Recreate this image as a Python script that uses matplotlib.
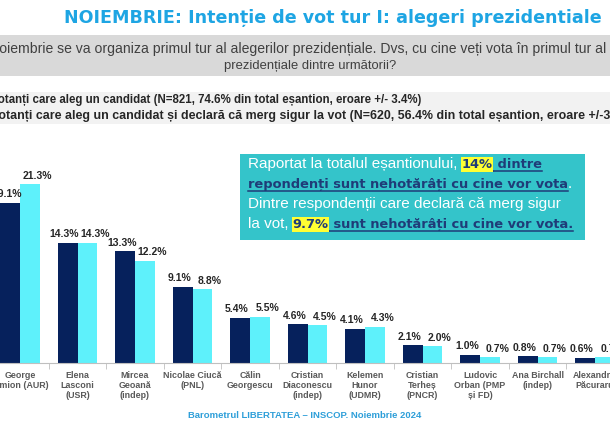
import matplotlib
matplotlib.use("Agg")
import matplotlib.pyplot as plt
from matplotlib.lines import Line2D
from matplotlib.patches import Rectangle
import numpy as np

candidates = ["George\nSimion (AUR)", "Elena\nLasconi\n(USR)", "Mircea\nGeoană\n(indep)",
              "Nicolae Ciucă\n(PNL)", "Călin\nGeorgescu", "Cristian\nDiaconescu\n(indep)",
              "Kelemen\nHunor\n(UDMR)", "Cristian\nTerheș\n(PNCR)", "Ludovic\nOrban (PMP\nși FD)",
              "Ana Birchall\n(indep)", "Alexandru\nPăcuraru"]
all_voters = [19.1, 14.3, 13.3, 9.1, 5.4, 4.6, 4.1, 2.1, 1.0, 0.8, 0.6]
sure_voters = [21.3, 14.3, 12.2, 8.8, 5.5, 4.5, 4.3, 2.0, 0.7, 0.7, 0.7]

legend_labels = ["Votanți care aleg un candidat (N=821, 74.6% din total eșantion, eroare +/- 3.4%)",
                 "Votanți care aleg un candidat și declară că merg sigur la vot (N=620, 56.4% din total eșantion, eroare +/-3.9%)"]

DARK = "#06215c"
LIGHT = "#5ef1fb"
W, H = 610, 425

fig = plt.figure(figsize=(6.1, 4.25), dpi=100)
fig.patch.set_facecolor("white")


def fx(px):
    return px / W


def fy(py):
    return 1 - py / H


# header bands
fig.patches.append(Rectangle((0, fy(76)), 1, (76 - 35) / H, transform=fig.transFigure,
                             facecolor="#d9d9d9", edgecolor="none", zorder=0))
fig.patches.append(Rectangle((0, fy(124)), 1, (124 - 92) / H, transform=fig.transFigure,
                             facecolor="#f2f2f2", edgecolor="none", zorder=0))

fig.text(fx(333), fy(18), "NOIEMBRIE: Intenție de vot tur I: alegeri prezidentiale",
         ha="center", va="center", fontsize=12.6, fontweight="bold", color="#1ea5e3",
         family="DejaVu Sans")
fig.text(fx(606), fy(49),
         "Pe 24 noiembrie se va organiza primul tur al alegerilor prezidențiale. Dvs, cu cine veți vota în primul tur al",
         ha="right", va="center", fontsize=10.1, color="#404040", family="Liberation Sans")
fig.text(fx(310), fy(66), "prezidențiale dintre următorii?", ha="center", va="center",
         fontsize=9.4, color="#404040", family="Liberation Sans")

renderer = fig.canvas.get_renderer()

# legend rows (the colour keys sit off the left edge)
for label, ypx, size in zip(legend_labels, [100, 116], [8.3, 8.9]):
    t = fig.text(0, fy(ypx), "V", fontsize=size, fontweight="bold", family="Liberation Sans")
    vw = t.get_window_extent(renderer).width
    t.remove()
    fig.text(fx(-vw - 1), fy(ypx), label, ha="left", va="center", fontsize=size,
             fontweight="bold", color="#262626", family="Liberation Sans")

# bars
ax = fig.add_axes([fx(-8.75), fy(363), 632.5 / W, 210 / H])
x = np.arange(len(candidates))
bw = 0.34
b1 = ax.bar(x - bw / 2, all_voters, bw, color=DARK)
b2 = ax.bar(x + bw / 2, sure_voters, bw, color=LIGHT)
for bars, vals, dx in [(b1, all_voters, -2.5), (b2, sure_voters, 5.5)]:
    for b, v in zip(bars, vals):
        ax.annotate(f"{v:.1f}%", (b.get_x() + b.get_width() / 2, v), xytext=(dx, 2.5),
                    textcoords="offset points", ha="center", va="bottom", fontsize=7.5,
                    fontweight="bold", color="#262626", family="Liberation Sans")
ax.set_xlim(-0.5, len(candidates) - 0.5)
ax.set_ylim(0, 25)
ax.set_xticks(x)
ax.set_xticklabels(candidates, fontsize=6.4, fontweight="bold", color="#595959",
                   family="Liberation Sans", linespacing=1.15)
ax.set_xticks(np.arange(len(candidates) + 1) - 0.5, minor=True)
ax.tick_params(axis="x", which="major", length=0, pad=6)
ax.tick_params(axis="x", which="minor", length=4, color="#bfbfbf")
ax.set_yticks([])
for s in ["top", "right", "left"]:
    ax.spines[s].set_visible(False)
ax.spines["bottom"].set_color("#bfbfbf")
ax.patch.set_alpha(0)

# info box
fig.patches.append(Rectangle((fx(240), fy(240)), (585 - 240) / W, (240 - 154) / H,
                             transform=fig.transFigure, facecolor="#34c4ca",
                             edgecolor="none", zorder=3))

plain = dict(fontsize=11.0, color="white", family="Liberation Sans")
strong = dict(fontsize=9.4, color="#1f3c78", fontweight="bold", family="DejaVu Sans")
marked = dict(fontsize=9.4, color="#1f3c78", fontweight="bold", family="DejaVu Sans",
              bbox=dict(facecolor="#ffff33", edgecolor="none", pad=0.5))

lines = [
    [("Raportat la totalul eșantionului, ", plain, False), ("14%", marked, True), (" dintre", strong, True)],
    [("repondenți sunt nehotărâți cu cine vor vota", strong, True), (".", plain, False)],
    [("Dintre respondenții care declară că merg sigur", plain, False)],
    [("la vot, ", plain, False), ("9.7%", marked, True), (" sunt nehotărâți cu cine vor vota.", strong, True)],
]
for i, segs in enumerate(lines):
    xpx = 248
    base = 168 + 20 * i
    for txt, style, underline in segs:
        t = fig.text(fx(xpx), fy(base), txt, ha="left", va="baseline", zorder=5, **style)
        ext = t.get_window_extent(renderer)
        if underline:
            fig.lines.append(Line2D([fx(xpx), fx(xpx + ext.width)], [fy(base + 3)] * 2,
                                    transform=fig.transFigure, color="#1f3c78", lw=1.1, zorder=5))
        xpx += ext.width

fig.text(fx(305), fy(415), "Barometrul LIBERTATEA – INSCOP. Noiembrie 2024", ha="center",
         va="center", fontsize=6.8, fontweight="bold", color="#2e9fd9", family="Liberation Sans")

fig.savefig("out.png", dpi=100)
plt.close(fig)
